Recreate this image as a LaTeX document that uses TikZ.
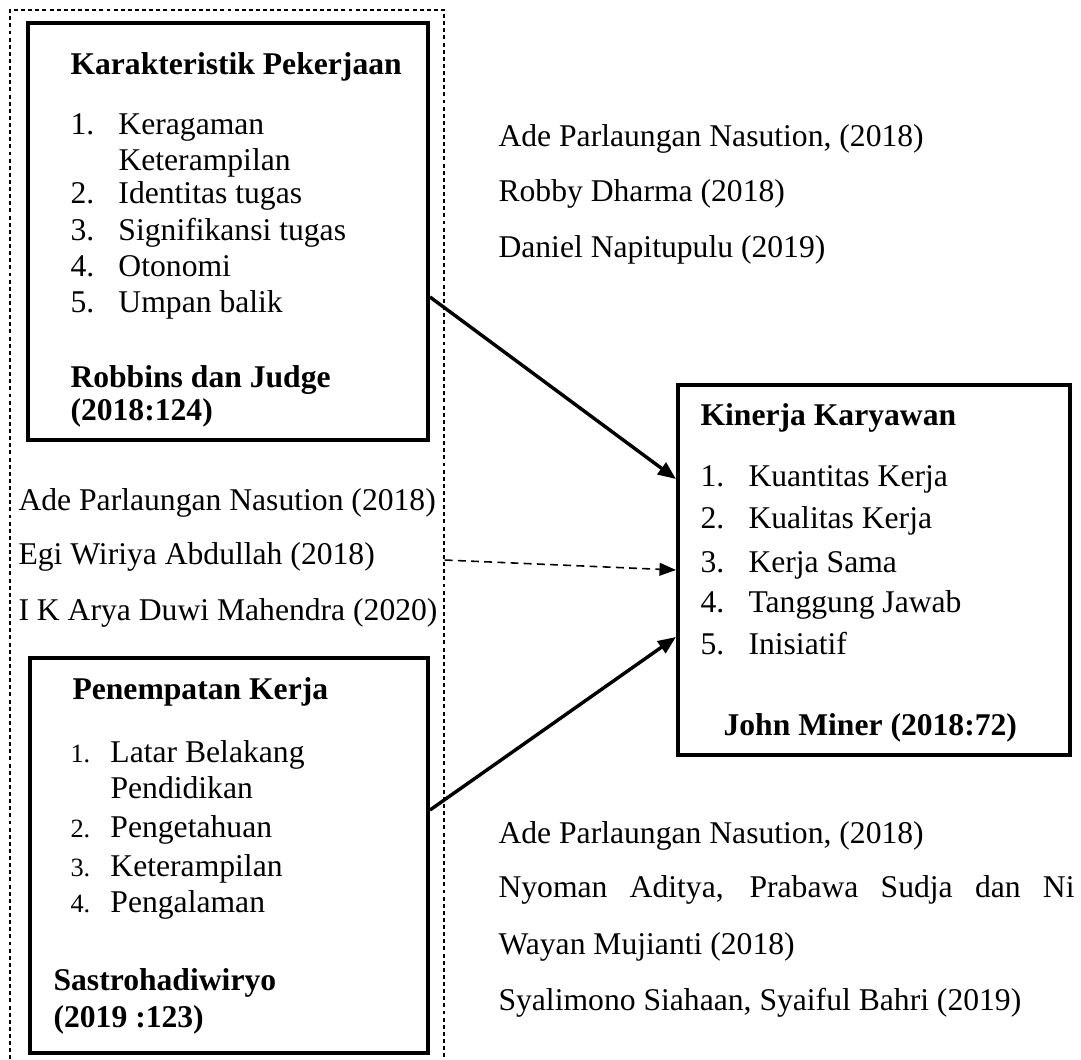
\documentclass[tikz,border=0pt]{standalone}
\usepackage{fontspec}
\setmainfont{Liberation Serif}
\usetikzlibrary{arrows.meta}

\begin{document}
\begin{tikzpicture}[
    block/.style={rectangle, draw, line width=1.5pt},
    refbox/.style={rectangle, draw, line width=0.5pt, dash pattern=on 1.5pt off 1.2pt},
    arrow/.style={-{Triangle[length=0.24cm, width=0.19cm]}, line width=1.3pt},
    dasharrow/.style={-{Triangle[length=0.22cm, width=0.17cm]}, line width=0.6pt, dash pattern=on 3pt off 2pt},
    entry/.style={anchor=base west, inner sep=0pt, font=\fontsize{12}{14}\selectfont},
    heading/.style={entry, font=\fontsize{12}{14}\selectfont\bfseries}
]

\useasboundingbox (0,0) rectangle (14.413,-14.12);

\node[refbox, minimum width=5.787cm, minimum height=14.533cm] (kelompok) at (3.027,-7.4) {};

\node[block, minimum width=5.333cm, minimum height=5.56cm] (karakteristik) at (3.04,-3.087) {};
\node[block, minimum width=5.307cm, minimum height=5.267cm] (penempatan) at (3.053,-11.407) {};
\node[block, minimum width=5.227cm, minimum height=4.933cm] (kinerja) at (11.653,-7.6) {};

% Karakteristik Pekerjaan
\node[heading] (kpJudul) at (0.933,-1.0) {Karakteristik Pekerjaan};
\node[entry] (kp1) at (0.933,-1.8) {\makebox[0.64cm][l]{1.}Keragaman};
\node[entry] (kp1b) at (1.573,-2.267) {Keterampilan};
\node[entry] (kp2) at (0.933,-2.707) {\makebox[0.64cm][l]{2.}Identitas tugas};
\node[entry] (kp3) at (0.933,-3.2) {\makebox[0.64cm][l]{3.}Signifikansi tugas};
\node[entry] (kp4) at (0.933,-3.693) {\makebox[0.64cm][l]{4.}Otonomi};
\node[entry] (kp5) at (0.933,-4.173) {\makebox[0.64cm][l]{5.}Umpan balik};
\node[heading] (kpSumber) at (0.933,-5.16) {Robbins dan Judge};
\node[heading] (kpTahun) at (0.933,-5.613) {(2018:124)};

% Penempatan Kerja
\node[heading] (pkJudul) at (0.96,-9.333) {Penempatan Kerja};
\node[entry] (pk1) at (0.933,-10.16) {\makebox[0.533cm][l]{\fontsize{10}{12}\selectfont 1.}Latar Belakang};
\node[entry] (pk1b) at (1.467,-10.64) {Pendidikan};
\node[entry] (pk2) at (0.933,-11.16) {\makebox[0.533cm][l]{\fontsize{10}{12}\selectfont 2.}Pengetahuan};
\node[entry] (pk3) at (0.933,-11.693) {\makebox[0.533cm][l]{\fontsize{10}{12}\selectfont 3.}Keterampilan};
\node[entry] (pk4) at (0.933,-12.173) {\makebox[0.533cm][l]{\fontsize{10}{12}\selectfont 4.}Pengalaman};
\node[heading] (pkSumber) at (0.707,-13.2) {Sastrohadiwiryo};
\node[heading] (pkTahun) at (0.707,-13.693) {(2019 :123)};

% Kinerja Karyawan
\node[heading] (kkJudul) at (9.333,-5.667) {Kinerja Karyawan};
\node[entry] (kk1) at (9.333,-6.493) {\makebox[0.64cm][l]{1.}Kuantitas Kerja};
\node[entry] (kk2) at (9.333,-7.04) {\makebox[0.64cm][l]{2.}Kualitas Kerja};
\node[entry] (kk3) at (9.333,-7.627) {\makebox[0.64cm][l]{3.}Kerja Sama};
\node[entry] (kk4) at (9.333,-8.173) {\makebox[0.64cm][l]{4.}Tanggung Jawab};
\node[entry] (kk5) at (9.333,-8.733) {\makebox[0.64cm][l]{5.}Inisiatif};
\node[heading] (kkSumber) at (9.64,-9.8) {John Miner (2018:72)};

% penelitian terdahulu
\node[entry] (refA1) at (6.64,-1.96) {Ade Parlaungan Nasution, (2018)};
\node[entry] (refA2) at (6.64,-2.693) {Robby Dharma (2018)};
\node[entry] (refA3) at (6.64,-3.427) {Daniel Napitupulu (2019)};

\node[entry] (refC1) at (0.24,-6.8) {Ade Parlaungan Nasution (2018)};
\node[entry] (refC2) at (0.24,-7.533) {Egi Wiriya Abdullah (2018)};
\node[entry] (refC3) at (0.24,-8.267) {I K Arya Duwi Mahendra (2020)};

\node[entry] (refB1) at (6.64,-11.24) {Ade Parlaungan Nasution, (2018)};
\node[entry] (refB2) at (6.64,-11.973) {\makebox[7.68cm][s]{Nyoman Aditya, Prabawa Sudja dan Ni}};
\node[entry] (refB3) at (6.64,-12.733) {Wayan Mujianti (2018)};
\node[entry] (refB4) at (6.64,-13.467) {Syalimono Siahaan, Syaiful Bahri (2019)};

\draw[arrow] ([yshift=-0.873cm]karakteristik.east) -- ([yshift=1.213cm]kinerja.west);
\draw[dasharrow] ([yshift=-0.067cm]kelompok.east) -- (kinerja.west);
\draw[arrow] ([yshift=0.607cm]penempatan.east) -- ([yshift=-0.893cm]kinerja.west);

\end{tikzpicture}
\end{document}
